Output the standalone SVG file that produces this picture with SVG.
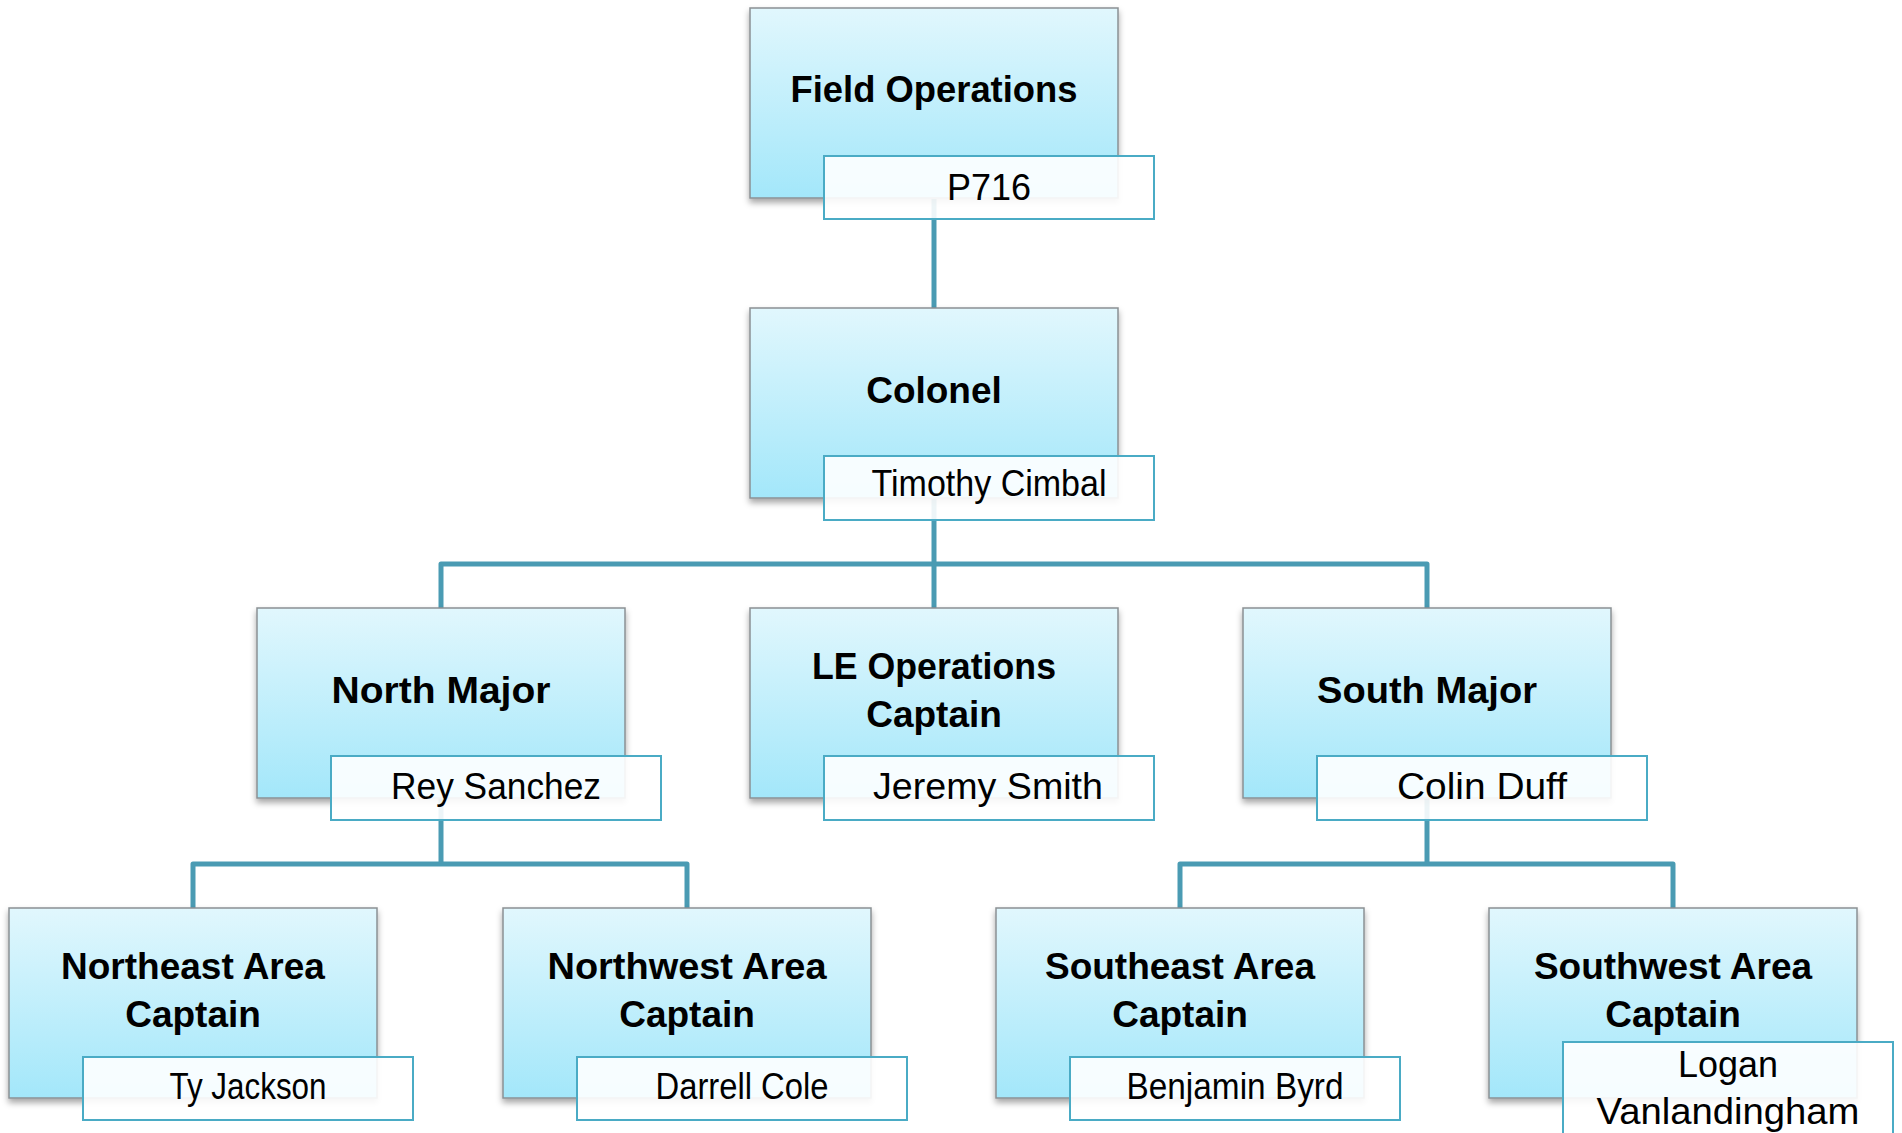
<svg xmlns="http://www.w3.org/2000/svg" width="1902" height="1133" viewBox="0 0 1902 1133">
<defs>
<linearGradient id="boxGrad" x1="0" y1="0" x2="0" y2="1">
<stop offset="0" stop-color="#e1f7fd"/>
<stop offset="1" stop-color="#a3e7fa"/>
</linearGradient>
<filter id="shadow" x="-10%" y="-10%" width="120%" height="130%">
<feDropShadow dx="0" dy="4" stdDeviation="3" flood-color="#000" flood-opacity="0.35"/>
</filter>
<style>
.box{fill:url(#boxGrad);stroke:#8a9094;stroke-width:1.5;filter:url(#shadow);}
.lbl{fill:#ffffff;fill-opacity:0.9;stroke:#4aabc5;stroke-width:2;}
.title{font-family:"Liberation Sans",Arial,sans-serif;font-weight:bold;font-size:37px;fill:#000;text-anchor:middle;}
.name{font-family:"Liberation Sans",Arial,sans-serif;font-size:36px;fill:#000;text-anchor:middle;}
.conn{fill:none;stroke:#4a9bb3;stroke-width:5;stroke-linejoin:round;}
</style>
</defs>
<rect width="1902" height="1133" fill="#ffffff"/>
<g id="connectors">
<path class="conn" d="M934,199 V308"/>
<path class="conn" d="M934,498 V608 M934,564 H441 V608 M934,564 H1427 V608"/>
<path class="conn" d="M441,798 V864 H193 V908 M441,864 H687 V908"/>
<path class="conn" d="M1427,798 V864 H1180 V908 M1427,864 H1673 V908"/>
</g>
<g id="field-operations">
<rect class="box" x="750" y="8" width="368" height="190"/>
<text class="title" x="934" y="102" textLength="287" lengthAdjust="spacingAndGlyphs">Field Operations</text>
<rect class="lbl" x="824" y="156" width="330" height="63"/>
<text class="name" x="989" y="200" textLength="84" lengthAdjust="spacingAndGlyphs">P716</text>
</g>
<g id="colonel">
<rect class="box" x="750" y="308" width="368" height="190"/>
<text class="title" x="934" y="403">Colonel</text>
<rect class="lbl" x="824" y="456" width="330" height="64"/>
<text class="name" x="989" y="496" textLength="235" lengthAdjust="spacingAndGlyphs">Timothy Cimbal</text>
</g>
<g id="north-major">
<rect class="box" x="257" y="608" width="368" height="190"/>
<text class="title" x="441" y="703" textLength="219" lengthAdjust="spacingAndGlyphs">North Major</text>
<rect class="lbl" x="331" y="756" width="330" height="64"/>
<text class="name" x="496" y="799" textLength="210" lengthAdjust="spacingAndGlyphs">Rey Sanchez</text>
</g>
<g id="le-operations-captain">
<rect class="box" x="750" y="608" width="368" height="190"/>
<text class="title" x="934" y="679" textLength="244" lengthAdjust="spacingAndGlyphs">LE Operations</text>
<text class="title" x="934" y="727">Captain</text>
<rect class="lbl" x="824" y="756" width="330" height="64"/>
<text class="name" x="988" y="799" textLength="230" lengthAdjust="spacingAndGlyphs">Jeremy Smith</text>
</g>
<g id="south-major">
<rect class="box" x="1243" y="608" width="368" height="190"/>
<text class="title" x="1427" y="703" textLength="220" lengthAdjust="spacingAndGlyphs">South Major</text>
<rect class="lbl" x="1317" y="756" width="330" height="64"/>
<text class="name" x="1482" y="799" textLength="170" lengthAdjust="spacingAndGlyphs">Colin Duff</text>
</g>
<g id="northeast-area-captain">
<rect class="box" x="9" y="908" width="368" height="190"/>
<text class="title" x="193" y="979">Northeast Area</text>
<text class="title" x="193" y="1027">Captain</text>
<rect class="lbl" x="83" y="1057" width="330" height="63"/>
<text class="name" x="248" y="1099" textLength="157" lengthAdjust="spacingAndGlyphs">Ty Jackson</text>
</g>
<g id="northwest-area-captain">
<rect class="box" x="503" y="908" width="368" height="190"/>
<text class="title" x="687" y="979" textLength="279" lengthAdjust="spacingAndGlyphs">Northwest Area</text>
<text class="title" x="687" y="1027">Captain</text>
<rect class="lbl" x="577" y="1057" width="330" height="63"/>
<text class="name" x="742" y="1099" textLength="173" lengthAdjust="spacingAndGlyphs">Darrell Cole</text>
</g>
<g id="southeast-area-captain">
<rect class="box" x="996" y="908" width="368" height="190"/>
<text class="title" x="1180" y="979">Southeast Area</text>
<text class="title" x="1180" y="1027">Captain</text>
<rect class="lbl" x="1070" y="1057" width="330" height="63"/>
<text class="name" x="1235" y="1099" textLength="217" lengthAdjust="spacingAndGlyphs">Benjamin Byrd</text>
</g>
<g id="southwest-area-captain">
<rect class="box" x="1489" y="908" width="368" height="190"/>
<text class="title" x="1673" y="979">Southwest Area</text>
<text class="title" x="1673" y="1027">Captain</text>
<rect class="lbl" x="1563" y="1042" width="330" height="96"/>
<text class="name" x="1728" y="1077" textLength="100" lengthAdjust="spacingAndGlyphs">Logan</text>
<text class="name" x="1728" y="1124" textLength="263" lengthAdjust="spacingAndGlyphs">Vanlandingham</text>
</g>
</svg>
